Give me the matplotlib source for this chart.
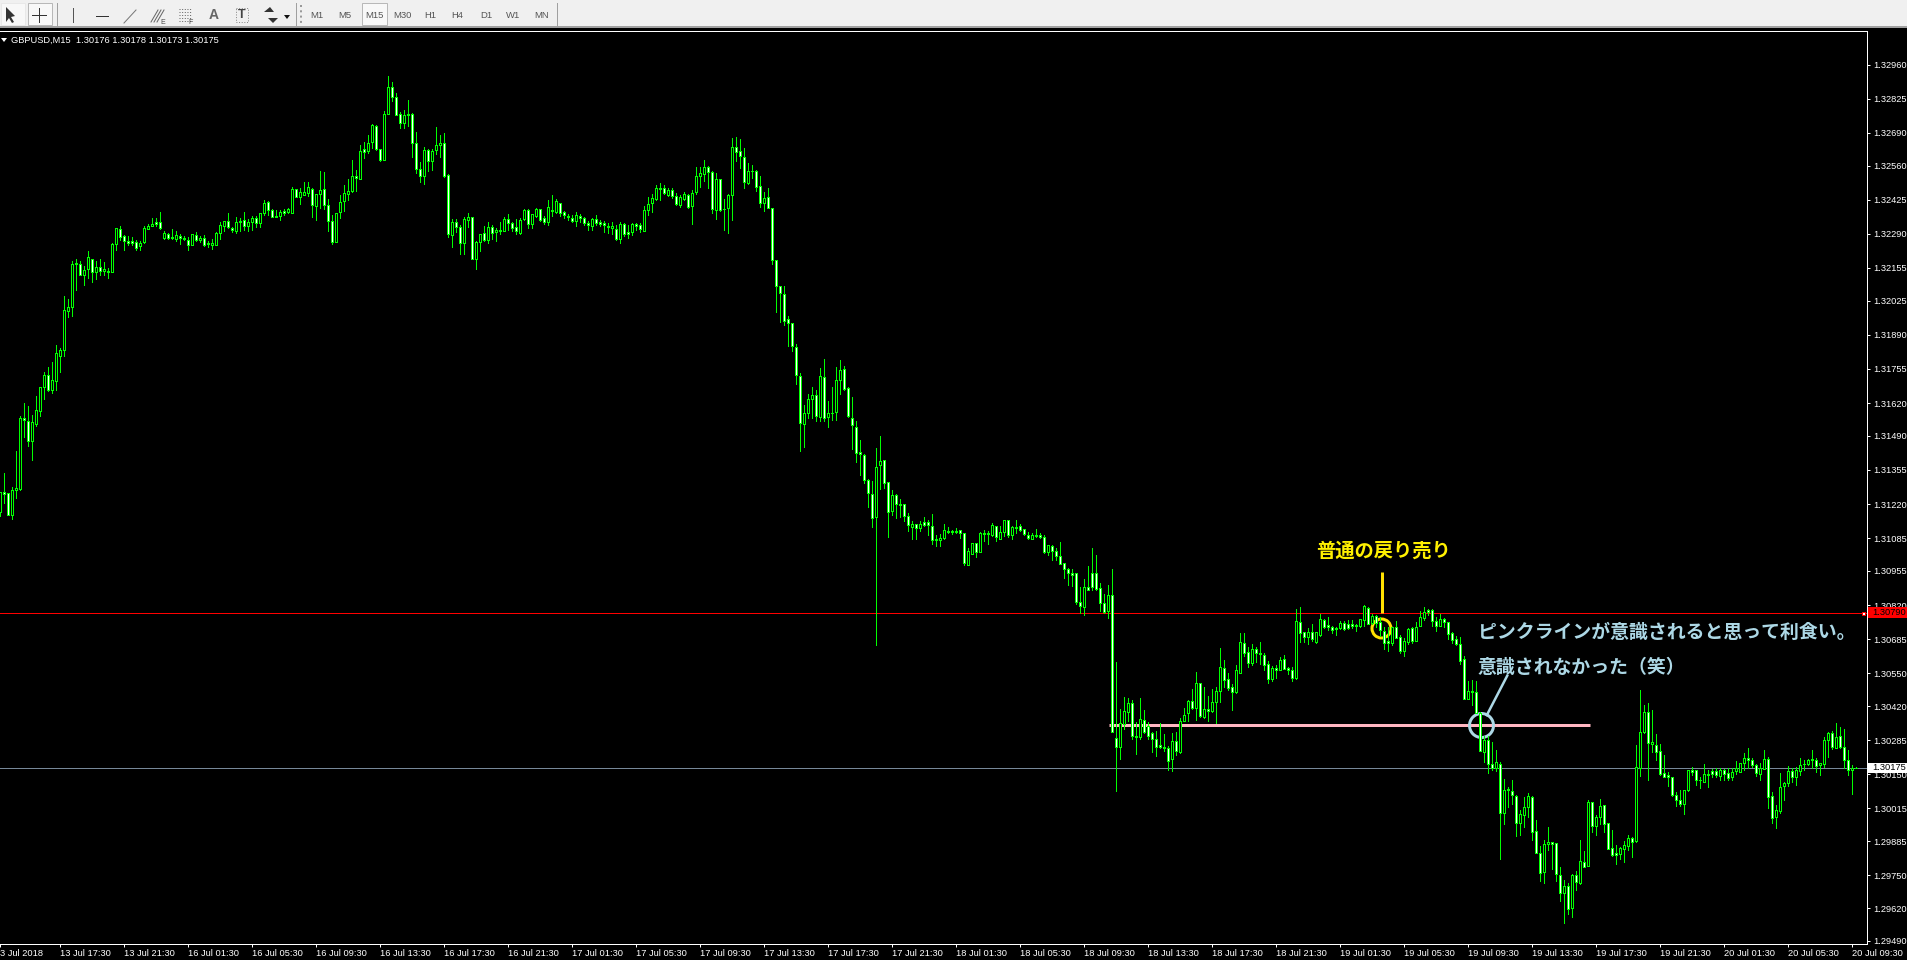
import numpy as np
import matplotlib
matplotlib.use("Agg")
import matplotlib.pyplot as plt
from matplotlib.patches import Rectangle, Polygon

plt.rcParams['font.family'] = ['Liberation Sans', 'Noto Sans CJK JP', 'DejaVu Sans']

# GBPUSD M15 candles, in points above 1.29000
opens = [2187,2267,2263,2175,2274,2280,2560,2548,2468,2537,
2590,2685,2730,2673,2709,2808,2828,2986,3000,3174,
3169,3125,3150,3190,3137,3158,3141,3143,3137,3248,
3308,3281,3262,3261,3256,3240,3256,3308,3320,3335,
3335,3273,3289,3279,3268,3281,3275,3267,3245,3286,
3267,3275,3254,3245,3245,3295,3319,3339,3314,3303,
3339,3343,3320,3335,3352,3331,3374,3414,3386,3360,
3359,3380,3376,3374,3466,3435,3443,3452,3469,3402,
3447,3467,3403,3340,3257,3376,3418,3447,3460,3518,
3508,3625,3616,3652,3718,3625,3584,3764,3871,3831,
3764,3727,3764,3764,3649,3546,3517,3623,3580,3621,
3641,3649,3522,3287,3336,3316,3252,3343,3356,3192,
3258,3293,3264,3317,3296,3306,3300,3349,3333,3317,
3295,3347,3384,3327,3362,3388,3353,3335,3384,3376,
3412,3376,3361,3353,3339,3361,3351,3333,3321,3349,
3338,3333,3320,3312,3308,3268,3327,3297,3296,3327,
3324,3302,3383,3411,3429,3471,3470,3445,3463,3438,
3405,3429,3444,3399,3454,3518,3527,3555,3535,3383,
3507,3388,3391,3442,3634,3618,3594,3493,3539,3539,
3479,3412,3436,3392,3186,3083,3051,2952,2937,2842,
2727,2535,2579,2634,2651,2566,2723,2563,2580,2583,
2711,2754,2679,2560,2525,2426,2414,2315,2258,2167,
2373,2393,2306,2191,2255,2221,2220,2172,2131,2141,
2126,2149,2149,2133,2081,2076,2084,2113,2112,2109,
2117,2105,1980,2024,2064,2032,2105,2101,2098,2133,
2083,2108,2156,2096,2126,2135,2120,2097,2083,2094,
2097,2089,2032,2052,2034,2014,1985,1962,1947,1947,
1834,1813,1891,1947,1947,1887,1830,1797,1859,1293,
1260,1349,1398,1431,1299,1298,1364,1340,1312,1289,
1265,1258,1253,1212,1281,1238,1361,1392,1439,1411,
1510,1378,1407,1400,1438,1481,1570,1526,1495,1476,
1553,1669,1633,1590,1645,1629,1624,1588,1526,1570,
1562,1605,1570,1562,1530,1752,1712,1695,1712,1675,
1702,1760,1740,1732,1724,1731,1748,1744,1744,1741,
1737,1761,1810,1748,1778,1753,1719,1678,1671,1732,
1693,1640,1675,1728,1678,1739,1768,1801,1802,1755,
1739,1764,1751,1711,1685,1666,1607,1449,1479,1474,
1392,1240,1285,1189,1176,1189,995,1091,1083,1065,
959,987,1020,1059,925,838,765,872,880,877,
753,678,707,622,750,721,801,785,1040,947,
979,1028,956,857,839,836,856,868,897,884,
1174,1317,1396,1269,1265,1242,1154,1146,1139,1066,
1047,1033,1086,1166,1166,1128,1121,1152,1162,1162,
1144,1168,1154,1139,1162,1161,1194,1214,1207,1186,
1153,1172,1210,1063,979,1004,1102,1115,1162,1141,
1162,1191,1189,1210,1208,1185,1189,1284,1315,1256,
1300,1260,1206,1165,1176]
closes = [2267,2259,2175,2276,2283,2560,2551,2468,2543,2593,
2683,2730,2672,2710,2817,2831,2988,3000,3170,3169,
3125,3146,3198,3137,3158,3141,3150,3137,3250,3312,
3279,3260,3254,3254,3235,3253,3312,3319,3330,3330,
3312,3293,3273,3274,3287,3275,3269,3245,3289,3265,
3275,3245,3249,3252,3293,3324,3339,3318,3304,3335,
3335,3320,3335,3352,3332,3374,3411,3385,3356,3356,
3376,3374,3389,3467,3435,3455,3454,3475,3403,3447,
3463,3403,3339,3256,3374,3414,3450,3459,3518,3510,
3617,3615,3649,3722,3625,3582,3764,3871,3831,3760,
3727,3761,3759,3649,3545,3518,3623,3580,3619,3641,
3649,3517,3291,3336,3316,3252,3348,3356,3192,3258,
3289,3264,3317,3293,3305,3302,3349,3331,3312,3300,
3346,3386,3327,3368,3390,3346,3335,3396,3379,3421,
3372,3363,3355,3342,3364,3351,3332,3324,3350,3332,
3330,3326,3318,3321,3268,3329,3288,3288,3329,3320,
3308,3383,3408,3432,3471,3466,3450,3462,3438,3407,
3436,3448,3395,3452,3520,3531,3555,3533,3387,3507,
3384,3387,3444,3634,3613,3597,3494,3539,3537,3474,
3411,3432,3391,3185,3082,3054,2943,2935,2844,2729,
2539,2580,2636,2651,2567,2727,2562,2580,2579,2711,
2750,2674,2567,2531,2424,2417,2314,2262,2163,2366,
2390,2302,2187,2255,2222,2216,2174,2139,2141,2127,
2141,2138,2139,2076,2076,2085,2117,2110,2109,2113,
2104,1985,2034,2064,2032,2105,2101,2105,2137,2088,
2109,2156,2096,2130,2130,2118,2100,2084,2097,2098,
2089,2032,2056,2036,2013,1984,1962,1947,1941,1834,
1815,1891,1881,1891,1885,1830,1793,1859,1319,1260,
1352,1400,1431,1303,1302,1367,1319,1303,1290,1260,
1260,1253,1204,1281,1244,1360,1385,1439,1411,1510,
1382,1407,1402,1435,1479,1574,1525,1492,1477,1562,
1673,1632,1592,1645,1629,1628,1582,1526,1570,1561,
1601,1568,1562,1530,1756,1711,1695,1712,1685,1712,
1765,1735,1732,1723,1730,1749,1727,1731,1736,1739,
1765,1815,1747,1776,1748,1722,1671,1671,1732,1691,
1640,1677,1724,1679,1735,1772,1794,1794,1755,1739,
1764,1752,1707,1683,1666,1600,1449,1480,1474,1392,
1243,1286,1189,1176,1198,996,1087,1087,1066,959,
992,1020,1063,923,840,761,875,881,872,757,
679,708,617,750,725,806,783,1040,947,980,
1024,955,855,831,831,857,869,897,880,1178,
1319,1396,1273,1277,1240,1153,1140,1139,1066,1047,
1033,1087,1166,1161,1129,1127,1152,1149,1152,1148,
1168,1152,1137,1161,1174,1194,1214,1208,1187,1154,
1174,1210,1062,975,1008,1099,1115,1162,1141,1166,
1186,1189,1206,1206,1183,1193,1285,1314,1257,1297,
1260,1206,1165,1173,1175]
highs = [2267,2342,2263,2287,2431,2569,2619,2609,2573,2646,
2683,2742,2763,2783,2850,2836,3044,3033,3183,3190,
3182,3162,3223,3190,3183,3191,3179,3154,3252,3314,
3322,3286,3282,3278,3266,3262,3322,3330,3351,3351,
3376,3300,3295,3310,3302,3290,3282,3278,3290,3297,
3283,3287,3260,3270,3298,3336,3341,3372,3316,3356,
3351,3376,3348,3361,3359,3374,3425,3418,3388,3385,
3385,3389,3392,3476,3467,3471,3496,3496,3471,3447,
3538,3535,3427,3365,3374,3444,3483,3506,3582,3542,
3642,3653,3682,3724,3720,3625,3776,3916,3892,3848,
3773,3781,3819,3768,3694,3575,3633,3627,3627,3712,
3682,3689,3526,3348,3348,3323,3356,3372,3356,3260,
3290,3322,3337,3326,3313,3335,3357,3370,3338,3350,
3353,3390,3388,3370,3394,3390,3361,3425,3445,3427,
3412,3380,3370,3364,3376,3367,3357,3341,3354,3366,
3345,3342,3334,3337,3325,3337,3333,3325,3331,3331,
3331,3400,3436,3449,3485,3491,3483,3471,3473,3452,
3444,3457,3449,3462,3556,3556,3582,3560,3540,3531,
3508,3429,3449,3669,3673,3667,3631,3572,3562,3543,
3520,3456,3471,3392,3187,3084,3084,2966,2937,2855,
2740,2613,2655,2684,2673,2760,2795,2629,2684,2762,
2791,2768,2683,2645,2550,2475,2418,2319,2312,2443,
2490,2394,2307,2277,2261,2241,2221,2186,2153,2142,
2151,2170,2158,2182,2098,2101,2141,2130,2118,2125,
2118,2106,2046,2065,2065,2109,2118,2112,2146,2135,
2134,2158,2158,2135,2156,2141,2121,2110,2105,2121,
2106,2097,2057,2056,2046,2071,1987,1968,1964,1948,
1890,1924,1976,2047,2019,1908,1865,1899,1963,1595,
1409,1455,1451,1444,1356,1451,1403,1357,1319,1322,
1353,1310,1262,1312,1318,1373,1413,1444,1488,1555,
1510,1495,1460,1488,1495,1650,1601,1550,1506,1582,
1710,1708,1653,1666,1652,1674,1632,1598,1580,1582,
1615,1621,1576,1575,1803,1811,1714,1730,1745,1714,
1785,1765,1772,1737,1732,1756,1757,1761,1761,1745,
1766,1821,1811,1785,1780,1772,1732,1732,1732,1757,
1700,1689,1728,1732,1752,1797,1811,1803,1803,1772,
1785,1768,1753,1712,1697,1694,1619,1520,1524,1520,
1396,1300,1302,1278,1247,1199,1132,1100,1128,1067,
1009,1061,1077,1063,970,867,890,942,880,878,
783,732,719,754,768,890,847,1049,1041,989,
1051,1029,959,930,871,861,885,910,900,1267,
1484,1425,1433,1404,1310,1269,1227,1158,1141,1078,
1088,1088,1168,1178,1168,1141,1191,1168,1172,1173,
1174,1172,1174,1174,1203,1194,1234,1253,1214,1191,
1194,1247,1220,1080,1029,1156,1119,1183,1173,1177,
1214,1207,1210,1247,1214,1194,1297,1319,1322,1354,
1338,1330,1247,1187,1178]
lows = [2171,2223,2175,2161,2244,2276,2487,2448,2395,2530,
2569,2637,2666,2658,2672,2741,2808,2959,2965,3066,
3125,3088,3116,3101,3112,3125,3128,3117,3137,3227,
3266,3227,3246,3246,3227,3227,3252,3308,3320,3322,
3311,3270,3269,3270,3260,3250,3265,3227,3244,3260,
3258,3242,3238,3229,3244,3270,3302,3312,3297,3293,
3303,3307,3302,3306,3315,3315,3363,3365,3355,3355,
3345,3363,3372,3372,3434,3410,3442,3439,3355,3343,
3394,3390,3302,3248,3256,3351,3381,3425,3454,3458,
3506,3592,3609,3631,3620,3579,3582,3764,3815,3759,
3707,3707,3715,3596,3530,3497,3488,3537,3541,3607,
3595,3516,3279,3236,3299,3212,3212,3315,3192,3151,
3220,3261,3255,3271,3263,3291,3300,3306,3302,3291,
3291,3343,3314,3314,3358,3342,3330,3326,3362,3372,
3362,3354,3346,3338,3322,3335,3326,3306,3306,3325,
3320,3298,3293,3291,3267,3255,3283,3275,3287,3305,
3298,3300,3366,3376,3425,3425,3446,3438,3430,3405,
3396,3425,3394,3330,3449,3475,3500,3471,3372,3350,
3379,3306,3295,3346,3580,3552,3473,3489,3511,3460,
3396,3380,3391,3172,2981,2939,2930,2847,2827,2696,
2431,2447,2562,2562,2550,2550,2550,2526,2554,2554,
2657,2673,2563,2439,2387,2336,2302,2209,2130,1663,
2281,2285,2090,2178,2166,2168,2154,2114,2081,2081,
2114,2135,2098,2060,2052,2052,2081,2106,2102,2105,
2086,1977,1977,2023,2011,2032,2073,2060,2092,2072,
2080,2094,2088,2083,2105,2114,2096,2081,2080,2089,
2086,2028,2020,1999,1999,1981,1928,1900,1894,1825,
1788,1782,1878,1878,1878,1795,1788,1770,1318,1085,
1211,1328,1359,1290,1231,1290,1315,1290,1238,1223,
1253,1244,1167,1163,1227,1236,1361,1360,1409,1365,
1378,1374,1359,1398,1353,1436,1497,1484,1405,1473,
1551,1619,1575,1583,1595,1587,1563,1512,1520,1530,
1561,1566,1547,1520,1529,1674,1674,1666,1677,1671,
1698,1728,1722,1711,1702,1724,1722,1727,1728,1716,
1735,1737,1745,1745,1732,1699,1646,1638,1663,1689,
1632,1620,1667,1671,1677,1737,1761,1780,1739,1719,
1736,1732,1685,1671,1660,1587,1447,1449,1425,1392,
1243,1197,1157,1168,1164,815,954,1022,1033,904,
908,943,979,890,840,728,721,851,776,728,
649,563,597,583,690,717,781,785,922,910,
954,923,853,827,795,815,801,851,824,881,
1144,1315,1128,1240,1207,1148,1139,1102,1065,1026,
1025,993,1082,1148,1108,1096,1121,1100,1139,1140,
1128,1128,1128,1128,1150,1158,1168,1174,1178,1145,
1128,1170,1017,956,938,995,1049,1104,1121,1108,
1148,1168,1187,1174,1161,1148,1177,1218,1249,1253,
1255,1174,1148,1073,1173]

price_ticks = [1.32960,1.32825,1.32690,1.32560,1.32425,1.32290,1.32155,1.32025,1.31890,
               1.31755,1.31620,1.31490,1.31355,1.31220,1.31085,1.30955,1.30820,1.30685,
               1.30550,1.30420,1.30285,1.30150,1.30015,1.29885,1.29750,1.29620,1.29490]
time_labels = ["3 Jul 2018","13 Jul 17:30","13 Jul 21:30",
               "16 Jul 01:30","16 Jul 05:30","16 Jul 09:30","16 Jul 13:30","16 Jul 17:30","16 Jul 21:30",
               "17 Jul 01:30","17 Jul 05:30","17 Jul 09:30","17 Jul 13:30","17 Jul 17:30","17 Jul 21:30",
               "18 Jul 01:30","18 Jul 05:30","18 Jul 09:30","18 Jul 13:30","18 Jul 17:30","18 Jul 21:30",
               "19 Jul 01:30","19 Jul 05:30","19 Jul 09:30","19 Jul 13:30","19 Jul 17:30","19 Jul 21:30",
               "20 Jul 01:30","20 Jul 05:30","20 Jul 09:30"]
timeframes = ["M1","M5","M15","M30","H1","H4","D1","W1","MN"]
red_level = 1.30790
bid_level = 1.30175
pink_level = 1.30345

GREEN = '#00FF00'
YELLOW = '#FFE000'
BLUE = '#ADD8E6'
PINK = '#FFB6C1'
px = 0.72  # one pixel in points at dpi 100

o = 1.29 + np.array(opens) / 1e5
c = 1.29 + np.array(closes) / 1e5
h = 1.29 + np.array(highs) / 1e5
l = 1.29 + np.array(lows) / 1e5
x = np.arange(len(o))
up = c >= o

fig = plt.figure(figsize=(19.07, 9.6), dpi=100, facecolor='black')
ax = fig.add_axes([0, 16 / 960, 1866.5 / 1907, 913.5 / 960], facecolor='black')
# one candle every 4 pixels, candle 0 on the left edge
ax.set_xlim(0, 466.625)
ax.set_ylim(1.29478, 1.33095)

# horizontal levels and drawn objects sit behind the candles
ax.axhline(red_level, color='#FF0000', lw=px, zorder=1)
ax.axhline(bid_level, color='#778899', lw=px, zorder=1)
ax.plot([277.3, 397.5], [pink_level, pink_level], color=PINK, lw=3 * px, solid_capstyle='butt', zorder=1)
ax.plot([345.4, 345.4], [1.30952, 1.30787], color=YELLOW, lw=3 * px, solid_capstyle='butt', zorder=1)
ax.plot([345.3], [1.30730], 'o', ms=19 * px, mfc='none', mec=YELLOW, mew=3 * px, zorder=1)
ax.plot([370.3], [pink_level], 'o', ms=24 * px, mfc='none', mec=BLUE, mew=3 * px, zorder=1)
ax.plot([371.7, 376.8], [1.30384, 1.30540], color=BLUE, lw=2.5 * px, zorder=1)

ax.vlines(x, l, h, colors=GREEN, linewidth=px, antialiased=False, zorder=2)
ax.bar(x[up], (c - o)[up], bottom=o[up], width=0.5, facecolor='black', edgecolor=GREEN,
       linewidth=px, antialiased=False, zorder=3)
ax.bar(x[~up], (c - o)[~up], bottom=o[~up], width=0.5, facecolor='white', edgecolor=GREEN,
       linewidth=px, antialiased=False, zorder=3)

# level marker at the end of the red line
ax.plot([465.7], [red_level], 's', ms=3 * px, mfc='white', mec='#FF0000', mew=px, zorder=4)

ax.spines['left'].set_visible(False)
for name in ['top', 'right', 'bottom']:
    ax.spines[name].set_color('white')
    ax.spines[name].set_linewidth(px)

ax.yaxis.tick_right()
ax.set_yticks(price_ticks)
ax.set_yticklabels(["%.5f" % v for v in price_ticks])
ax.set_xticks([0] + [15 + 16 * i for i in range(29)])
ax.set_xticklabels(time_labels, ha='left')
ax.tick_params(axis='y', colors='white', labelsize=6.7, length=2.2, width=px, pad=2.5)
ax.tick_params(axis='x', colors='white', labelsize=6.7, length=2.2, width=px, pad=1.5)

# price flags on the right scale
yt = ax.get_yaxis_transform()
for level, bg in [(red_level, '#FF0000'), (bid_level, 'white')]:
    ax.add_patch(Rectangle((1.0008, level - 0.00021), 0.0215, 0.00042, transform=yt, facecolor=bg,
                           edgecolor='none', clip_on=False, zorder=6))
    ax.text(1.0030, level, "%.5f" % level, transform=yt, color='black', fontsize=6.7, va='center', ha='left',
            clip_on=False, zorder=7)

# annotations
jp = ['Noto Sans CJK JP', 'DejaVu Sans']
ax.text(329.0, 1.31033, "普通の戻り売り", color='#FFF000', fontsize=13.9, family=jp, weight='bold',
        ha='left', va='center', zorder=8)
ax.text(369.5, 1.30712, "ピンクラインが意識されると思って利食い。", color=BLUE, fontsize=13.6, family=jp,
        weight='bold', ha='left', va='center', zorder=8)
ax.text(369.5, 1.30574, "意識されなかった（笑）", color=BLUE, fontsize=13.6, family=jp,
        weight='bold', ha='left', va='center', zorder=8)

# chart header
fig.text(11 / 1907, 1 - 40 / 960, "GBPUSD,M15  1.30176 1.30178 1.30173 1.30175", color='white',
         fontsize=6.7, va='center', ha='left')
fig.add_artist(Polygon([[1 / 1907, 1 - 38 / 960], [7 / 1907, 1 - 38 / 960], [4 / 1907, 1 - 42 / 960]],
                       closed=True, facecolor='white', edgecolor='none', transform=fig.transFigure))

# toolbar
tb = fig.add_axes([0, 1 - 28 / 960, 1, 28 / 960], facecolor='#F0F0F0')
tb.set_xlim(0, 1907)
tb.set_ylim(28, 0)
tb.set_xticks([])
tb.set_yticks([])
for s in tb.spines.values():
    s.set_visible(False)
tb.axhline(27, color='#A0A0A0', lw=2 * px)
for xs in [56.7, 296, 557]:
    tb.plot([xs, xs], [3, 25], color='#A0A0A0', lw=px)
tb.add_patch(Rectangle((0.5, 3), 24, 22, facecolor='#F8F8F8', edgecolor='#E8E8E8', lw=px))
for bx, bw in [(28, 24), (362, 25)]:
    tb.add_patch(Rectangle((bx, 3), bw, 22, facecolor='#F8F8F8', edgecolor='#B8B8B8', lw=px))
tb.add_patch(Polygon([[6, 7], [6, 22], [9, 18], [12, 23], [14, 22], [11, 17], [15, 16]], closed=True, facecolor='#333333'))
tb.plot([39, 39], [8, 22], color='#333333', lw=px)
tb.plot([32, 46], [15, 15], color='#333333', lw=px)
tb.plot([73, 73], [8, 22], color='#555555', lw=px)
tb.plot([96, 108], [16, 16], color='#333333', lw=px)
tb.plot([124, 136], [23, 10], color='#777777', lw=px)
for dx in [0, 3, 6]:
    tb.plot([151 + dx, 158 + dx], [22, 10], color='#666666', lw=px)
tb.text(163, 22, "E", fontsize=5, color='#444444', ha='center', va='center')
for dy in [9, 12, 15, 18, 21]:
    tb.plot([179, 192], [dy, dy], color='#666666', lw=px, ls=':')
tb.text(191, 22, "F", fontsize=5, color='#444444', ha='center', va='center')
tb.text(214, 15, "A", fontsize=10, color='#666666', ha='center', va='center', weight='bold')
tb.add_patch(Rectangle((236, 8), 12, 14, facecolor='none', edgecolor='#888888', lw=px, ls=':'))
tb.text(242, 15, "T", fontsize=9, color='#444444', ha='center', va='center', weight='bold')
tb.add_patch(Polygon([[264, 12], [270, 7], [274, 12]], closed=True, facecolor='#333333'))
tb.add_patch(Polygon([[268, 18], [278, 18], [273, 23]], closed=True, facecolor='#333333'))
tb.add_patch(Polygon([[284, 15], [290, 15], [287, 19]], closed=True, facecolor='#111111'))
tb.plot([301, 301], [5, 24], color='#999999', lw=2 * px, ls=':')
for lab, tx in zip(timeframes, [317, 345, 374, 402, 430, 457, 486, 513, 542]):
    tb.text(tx, 15.5, lab, fontsize=6.8, color='#555555', ha='center', va='center')

fig.savefig("out.png", dpi=100, facecolor='black')
